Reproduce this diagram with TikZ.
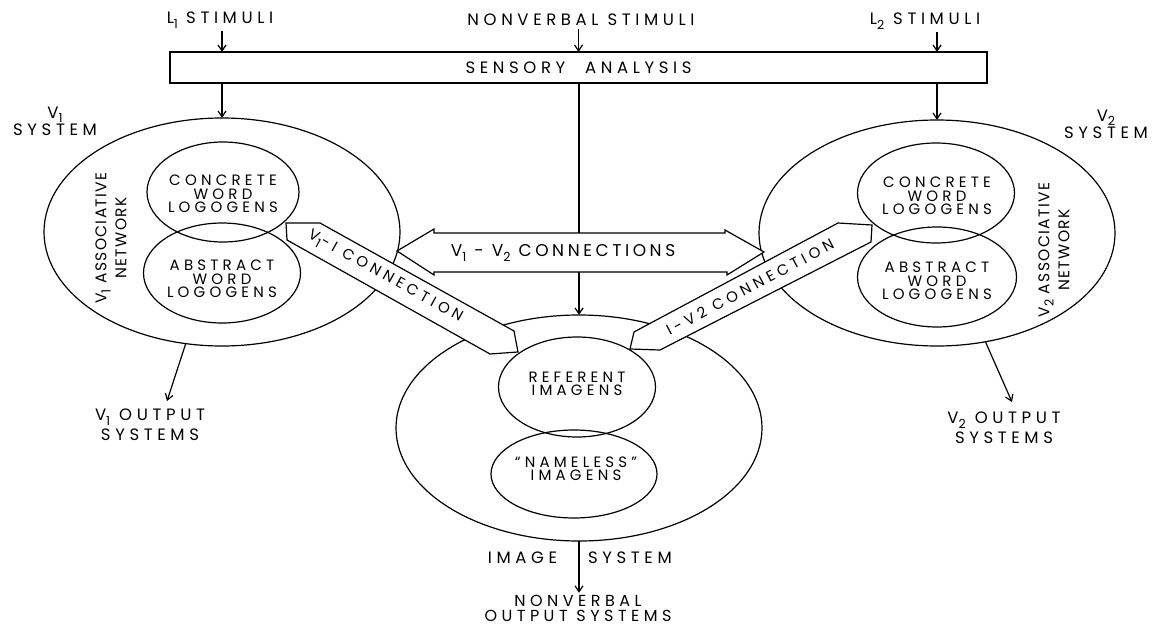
\documentclass[tikz,border=0pt]{standalone}
\usepackage{fontspec}
\setmainfont{Poppins}[LetterSpace=28]
\usetikzlibrary{arrows.meta,shapes.geometric,calc}
% lowered, smaller index digit (L1, V1, V2 ...)
\newcommand\lsub[1]{\raisebox{-0.5ex}{\fontsize{12.5}{12.5}\selectfont #1}}

\begin{document}
\begin{tikzpicture}[x=1pt,y=-1pt,
  line width=1.2pt,
  every node/.style={inner sep=0pt, outer sep=0pt},
  lbl/.style={font=\fontsize{16.5}{20}\selectfont, align=center},
  syslbl/.style={font=\fontsize{16.5}{17}\selectfont, align=center},
  tightlbl/.style={font=\fontsize{16}{15}\selectfont, align=center},
  connlbl/.style={font=\fontsize{15}{20}\selectfont, align=center},
  netlbl/.style={font=\fontsize{15.5}{20}\selectfont\addfontfeature{LetterSpace=9}, align=center},
  bigl/.style={font=\fontsize{17}{20}\selectfont\addfontfeature{LetterSpace=21}, align=center},
  intxt/.style={font=\fontsize{15}{13.5}\selectfont, align=center},
  oval/.style={draw, ellipse, inner sep=0pt},
  arr/.style={-{Straight Barb[length=6pt,width=8pt]}},
  broad/.style={draw, fill=white, line join=miter},
]
\useasboundingbox (0,0) rectangle (1154,626);

% the three systems
\node[oval, minimum width=356, minimum height=228] (v1sys) at (222,232) {};
\node[oval, minimum width=356, minimum height=226] (v2sys) at (937,233) {};
\node[oval, minimum width=366, minimum height=226] (imgsys) at (579,428) {};

% sensory analysis and the stimuli
\node[draw, minimum width=817, minimum height=31, lbl] (sens) at (578.5,67.5)
  {SENSORY\hspace{1.2em}ANALYSIS};
\node[lbl] (stimL1) at (220,20) {L\lsub{1}\hspace{0.5em}STIMULI};
\node[lbl] (stimNV) at (581,20) {NONVERBAL STIMULI};
\node[lbl] (stimL2) at (925,21) {L\lsub{2} STIMULI};

\draw[arr, shorten <=3pt] (stimL1.south -| v1sys.north) -- (sens.north -| v1sys.north);
\draw[arr, shorten <=3pt] (stimNV.south -| sens.north) -- (sens.north);
\draw[arr, shorten <=3pt] (stimL2.south -| v2sys.north) -- (sens.north -| v2sys.north);
\draw[arr] (sens.south -| v1sys.north) -- (v1sys.north);
\draw[arr] (sens.south -| v2sys.north) -- (v2sys.north);
\draw[arr] (sens.south -| imgsys.north) -- (imgsys.north);

% broad connection arrows
\draw[broad] (286,223) -- (320,223) -- (505,326) -- (514,331) -- (518,352)
  -- (490,354) -- (287,240) -- cycle;
\draw[broad] (872,225) -- (838,223) -- (647,325) -- (634,332) -- (630,349)
  -- (660,350) -- (871,242) -- cycle;
\draw[broad] (397,251) -- (434,229) -- (434,233) -- (725,233) -- (725,230)
  -- (764,252) -- (727,275) -- (727,272) -- (434,272) -- (434,275) -- cycle;

\node[connlbl, rotate=-29] (v1ilbl) at (385,277) {V\lsub{1}-I CONNECTION};
\node[connlbl, rotate=28] (iv2lbl) at (750,287) {I-V2 CONNECTION};
\node[bigl] (v12lbl) at (563,253) {V\lsub{1} - V\lsub{2} CONNECTIONS};

% logogen and imagen sets
\node[oval, minimum width=152, minimum height=100] (v1conc) at (223,192) {};
\node[oval, minimum width=157, minimum height=100] (v1abs) at (222,273) {};
\node[oval, minimum width=157, minimum height=100] (v2conc) at (936,193) {};
\node[oval, minimum width=159, minimum height=100] (v2abs) at (937,277) {};
\node[oval, minimum width=157, minimum height=100] (ref) at (577,387) {};
\node[oval, minimum width=166, minimum height=88] (nameless) at (574,474) {};

\node[intxt] (t1) at (223,194) {CONCRETE\\WORD\\LOGOGENS};
\node[intxt] (t2) at (222,279) {ABSTRACT\\WORD\\LOGOGENS};
\node[intxt] (t3) at (937,196) {CONCRETE\\WORD\\LOGOGENS};
\node[intxt] (t4) at (937,281) {ABSTRACT\\WORD\\LOGOGENS};
\node[intxt] (t5) at (577,384) {REFERENT\\IMAGENS};
\node[intxt] (t6) at (576,469) {``NAMELESS''\\IMAGENS};

% system labels
\node[netlbl, rotate=90] (v1net) at (111,238) {V\lsub{1} ASSOCIATIVE\\NETWORK};
\node[netlbl, rotate=90] (v2net) at (1054,250) {V\lsub{2} ASSOCIATIVE\\NETWORK};
\node[syslbl] (v1lbl) at (55,121) {V\lsub{1}\\SYSTEM};
\node[syslbl] (v2lbl) at (1106,124) {V\lsub{2}\\SYSTEM};

% outputs
\node[lbl] (v1out) at (150,425) {V\lsub{1} OUTPUT\\SYSTEMS};
\node[lbl] (v2out) at (1004,428) {V\lsub{2} OUTPUT\\SYSTEMS};
\node[tightlbl] (nvout) at (578,608) {NONVERBAL\\OUTPUT SYSTEMS};
\node[lbl, anchor=east] (imgw) at (557,558) {IMAGE};
\node[lbl, anchor=west] (sysw) at (588,558) {SYSTEM};

\coordinate (v1end) at (167,401);
\coordinate (v2end) at (1012,402);
\draw[arr] (v1sys.252) -- (v1end);
\draw[arr] (v2sys.294) -- (v2end);
\draw[arr, shorten >=2pt] (imgsys.south) -- (nvout.north -| imgsys.south);
\end{tikzpicture}
\end{document}
